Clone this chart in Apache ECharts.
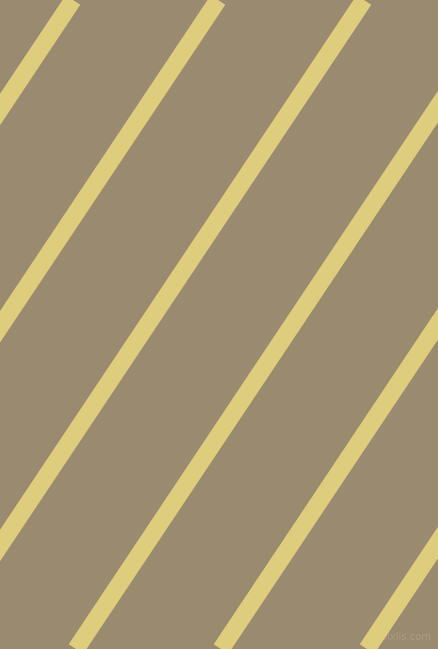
<!DOCTYPE html>
<html>
<head>
<meta charset="utf-8">
<style>
  html, body { margin: 0; padding: 0; background: #9a8a70; }
  #chart { width: 438px; height: 649px; }
</style>
<script src="https://cdn.jsdelivr.net/npm/echarts@6/dist/echarts.min.js"></script>
</head>
<body>
<div id="chart"></div>
<script>
// Stripe centre x-positions where each stripe meets the top edge (y = 0)
var stripeTopX = [-72, 73, 218, 364, 509, 654, 800];
// Stripe centre x-positions where each stripe meets the bottom edge (y = 649)
var stripeBottomX = [-505, -360, -215, -69, 76, 221, 367];
var edgeY = [0, 649];
var watermark = 'pixlis.com';

var chart = echarts.init(document.getElementById('chart'));
var series = stripeTopX.map(function (tx, i) {
  return {
    type: 'line',
    data: [[tx, edgeY[0]], [stripeBottomX[i], edgeY[1]]],
    symbol: 'none',
    silent: true,
    clip: true,
    animation: false,
    lineStyle: { color: '#dfcd7e', width: 17.5, cap: 'butt' }
  };
});

chart.setOption({
  backgroundColor: '#9a8a70',
  animation: false,
  grid: { left: 0, right: 0, top: 0, bottom: 0 },
  xAxis: { type: 'value', min: 0, max: 438, show: false },
  yAxis: { type: 'value', min: 0, max: 649, inverse: true, show: false },
  series: series,
  graphic: [{
    type: 'text',
    right: 7,
    bottom: 7,
    style: {
      text: watermark,
      font: '10px "DejaVu Sans"',
      fill: '#ab9d80'
    }
  }]
});
</script>
</body>
</html>
